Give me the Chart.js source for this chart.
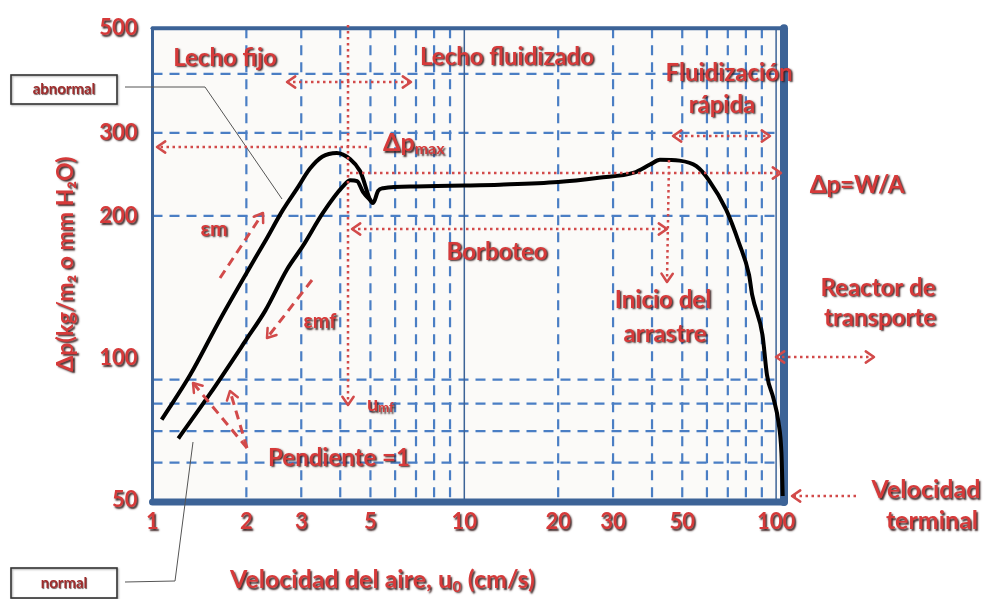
<!DOCTYPE html>
<html><head><meta charset="utf-8">
<script src="https://cdn.jsdelivr.net/npm/chart.js@4.4.0/dist/chart.umd.min.js"></script>
<style>html,body{margin:0;padding:0;background:#fff;}#wrap{width:984px;height:599px;position:relative;}</style>
</head><body><div id="wrap"><canvas id="c" width="984" height="599"></canvas></div>
<script>
// ---- data (air velocity u0 in cm/s, pressure drop in kg/m2) ----
const abnormalU  = [1.07, 1.32, 1.65, 2.01, 2.3, 2.62, 2.9, 3.2, 3.5, 3.9, 4.3, 4.63, 5.10, 5.29, 5.49, 7.0, 10.0, 13.0, 20.0, 27.0, 35.0, 39.4, 42.4, 49.0, 55.5, 60.9, 69.2, 76.1, 81.9, 83.8, 90.4, 93.5, 98.1, 101.8, 104.0, 105.0];
const abnormalDp = [74, 92, 121, 152, 177, 206, 228, 252, 267, 272, 264, 249, 213, 226, 229, 231, 232, 233, 236, 241, 247, 257, 263, 262, 255, 238, 206, 175, 150, 136, 112, 92, 82, 73, 63, 51];
const normalU  = [1.21, 1.53, 2.01, 2.3, 2.70, 3.04, 3.52, 4.08, 4.31, 4.53, 4.73, 5.10];
const normalDp = [67.5, 84, 110, 126, 154, 173, 203, 231, 238, 237, 225, 213];
const xTickValues = [1, 2, 3, 5, 10, 20, 30, 50, 100];
const yTickValues = [50, 100, 200, 300, 500];
const xGridDashed = [2, 3, 4, 5, 6, 7, 8, 9, 20, 30, 40, 50, 60, 70, 80, 90];
const xGridSolid  = [10, 100];
const yGridDashed = [60, 70, 80, 90, 200, 300, 400];

const RED = '#d63a3a';
const ARROW = '#d24a4a';
const BLUE = '#4a7ec4';
const DARKBLUE = '#3c6397';
const FONT = 'Lato';

function shadow(c){ c.shadowColor='rgba(55,30,30,0.95)'; c.shadowOffsetX=1.5; c.shadowOffsetY=1.5; c.shadowBlur=1.8; }
function txt(c, s, x, y, size, align){
  c.save(); c.font='bold '+size+'px '+FONT; c.textAlign=align||'center'; c.textBaseline='middle';
  shadow(c); c.fillStyle=RED; c.fillText(s,x,y); const w=c.measureText(s).width; c.restore(); return w;
}
function head(c, x, y, ang, size){
  size=size||10; const a=0.6;
  c.save(); c.setLineDash([]); c.lineWidth=2.5; c.strokeStyle=ARROW; c.lineCap='round'; c.lineJoin='round';
  c.beginPath();
  c.moveTo(x-size*Math.cos(ang-a), y-size*Math.sin(ang-a));
  c.lineTo(x,y);
  c.lineTo(x-size*Math.cos(ang+a), y-size*Math.sin(ang+a));
  c.stroke(); c.restore();
}
function arrow(c, x1,y1,x2,y2, style, startHead, endHead){
  c.save(); c.strokeStyle=ARROW;
  if(style==='dot'){ c.lineWidth=2.5; c.setLineDash([2.5,3.5]); }
  else { c.lineWidth=3; c.setLineDash([9,6]); }
  c.beginPath(); c.moveTo(x1,y1); c.lineTo(x2,y2); c.stroke(); c.restore();
  const ang=Math.atan2(y2-y1,x2-x1);
  if(endHead) head(c,x2,y2,ang);
  if(startHead) head(c,x1,y1,ang+Math.PI);
}

const fx = {
  id:'fx',
  beforeDraw(chart){ const c=chart.ctx; c.save(); shadow(c); },
  beforeDatasetsDraw(chart){
    const c=chart.ctx; c.restore();
    const a=chart.chartArea, xs=chart.scales.x, ys=chart.scales.y;
    c.save();
    c.fillStyle='#fbfaf8'; c.fillRect(a.left,a.top,a.right-a.left,a.bottom-a.top);
    c.strokeStyle=BLUE; c.lineWidth=2.2; c.setLineDash([10,7]);
    yGridDashed.forEach(v=>{ const y=ys.getPixelForValue(v); c.beginPath(); c.moveTo(a.left,y); c.lineTo(a.right,y); c.stroke(); });
    xGridDashed.forEach(v=>{ const x=xs.getPixelForValue(v); c.beginPath(); c.moveTo(x,a.top); c.lineTo(x,a.bottom); c.stroke(); });
    c.setLineDash([]); c.lineWidth=1.5; c.strokeStyle=DARKBLUE;
    xGridSolid.forEach(v=>{ const x=xs.getPixelForValue(v); c.beginPath(); c.moveTo(x,a.top); c.lineTo(x,a.bottom); c.stroke(); });
    // plot frame
    c.strokeStyle=DARKBLUE; c.lineCap='round';
    c.lineWidth=4; c.beginPath(); c.moveTo(a.left,a.top); c.lineTo(a.right,a.top); c.stroke();
    c.lineWidth=3; c.beginPath(); c.moveTo(a.left,a.top); c.lineTo(a.left,a.bottom); c.stroke();
    c.lineWidth=7; c.beginPath(); c.moveTo(a.left,a.bottom+2); c.lineTo(a.right,a.bottom+2); c.stroke();
    c.lineWidth=8; c.beginPath(); c.moveTo(a.right,a.top); c.lineTo(a.right,a.bottom+2); c.stroke();
    c.restore();
  },
  afterDatasetsDraw(chart){
    const c=chart.ctx;
    // leader lines and boxes
    c.save(); c.strokeStyle='#555'; c.lineWidth=1;
    c.beginPath(); c.moveTo(125,87); c.lineTo(205,87); c.lineTo(282,199); c.stroke();
    c.beginPath(); c.moveTo(125,582); c.lineTo(175,581); c.lineTo(193,442); c.stroke();
    c.shadowColor='rgba(0,0,0,0.35)'; c.shadowOffsetX=1; c.shadowOffsetY=1; c.shadowBlur=2;
    c.strokeStyle='#333'; c.lineWidth=1.6;
    c.strokeRect(11,75,106,29); c.strokeRect(11,568,106,30);
    c.restore();
    c.save(); c.font='bold 15px '+FONT; c.textAlign='center'; c.textBaseline='middle'; c.fillStyle='#a02c2c';
    c.shadowColor='rgba(60,30,30,0.7)'; c.shadowOffsetX=0.8; c.shadowOffsetY=0.8; c.shadowBlur=0.8;
    c.fillText('abnormal',64,89); c.fillText('normal',64,583); c.restore();

    // dotted arrows
    arrow(c,287,82,411,82,'dot',true,true);
    arrow(c,367,147,157,147,'dot',false,true);
    arrow(c,348,25,348,405,'dot',false,true);
    arrow(c,350,173,781,173,'dot',false,true);
    arrow(c,352,229,667,229,'dot',true,true);
    arrow(c,669,160,667,282,'dot',false,true);
    arrow(c,673,136,770,136,'dot',true,true);
    arrow(c,776,357,874,357,'dot',true,true);
    arrow(c,856,496,792,496,'dot',false,true);
    // dashed arrows
    arrow(c,220,278,263,213,'dash',false,true);
    arrow(c,312,280,267,338,'dash',false,true);
    arrow(c,247,448,193,383,'dash',false,true);
    arrow(c,247,448,230,391,'dash',false,true);

    // labels
    txt(c,'Lecho fijo',225,58,24);
    txt(c,'Lecho fluidizado',507,57,24);
    txt(c,'Fluidización',729,73,24);
    txt(c,'rápida',722,105,24);
    let w=txt(c,'Δp',383,143,25,'left'); txt(c,'max',383+w,149,16,'left');
    txt(c,'Δp=W/A',857,185,24);
    txt(c,'Borboteo',497,252,24);
    txt(c,'Inicio del',663,300,24);
    txt(c,'arrastre',665,334,24);
    txt(c,'Reactor de',878,288,24);
    txt(c,'transporte',880,318,24);
    txt(c,'Velocidad',926,490,25);
    txt(c,'terminal',932,521,25);
    txt(c,'εm',214,229,21);
    txt(c,'εmf',320,322,20);
    w=txt(c,'u',367,405,20,'left'); txt(c,'mf',367+w,408,13,'left');
    txt(c,'Pendiente =1',339,458,24);
    // x axis title
    w=txt(c,'Velocidad del aire, u',230,580,25,'left');
    const w2=txt(c,'0',230+w+0.5,587,15,'left');
    txt(c,' (cm/s)',230+w+w2+1,580,25,'left');
  }
};

const toPts = (us, ps) => us.map((u,i)=>({x:u, y:ps[i]}));

new Chart(document.getElementById('c'), {
  type:'line',
  data:{ datasets:[
    { label:'abnormal', data:toPts(abnormalU, abnormalDp), borderColor:'#000', borderWidth:4, pointRadius:0, cubicInterpolationMode:'monotone', fill:false, clip:8 },
    { label:'normal', data:toPts(normalU, normalDp), borderColor:'#000', borderWidth:4, pointRadius:0, cubicInterpolationMode:'monotone', fill:false }
  ]},
  options:{
    responsive:false, animation:false, devicePixelRatio:1,
    layout:{ padding:{ top:23, right:200, bottom:0, left:0 } },
    plugins:{ legend:{display:false}, tooltip:{enabled:false} },
    scales:{
      x:{ type:'logarithmic', min:1, max:106,
          afterFit(s){ s.height=99; },
          afterBuildTicks(s){ s.ticks = xTickValues.map(v=>({value:v})); },
          grid:{ display:false, drawTicks:false }, border:{ display:false },
          ticks:{ autoSkip:false, maxRotation:0, padding:9, color:RED, font:{family:FONT, weight:'bold', size:22}, callback:v=>String(v) } },
      y:{ type:'logarithmic', min:50, max:500,
          afterFit(s){ s.width=152.5; },
          afterBuildTicks(s){ s.ticks = yTickValues.map(v=>({value:v})); },
          grid:{ display:false, drawTicks:false }, border:{ display:false },
          ticks:{ autoSkip:false, padding:15, color:RED, font:{family:FONT, weight:'bold', size:22}, callback:v=>String(v) },
          title:{ display:true, text:'Δp(kg/m₂ o mm H₂O)', color:RED, font:{family:FONT, weight:'bold', size:23}, padding:{top:52, bottom:0} } }
    }
  },
  plugins:[fx]
});
</script></body></html>
